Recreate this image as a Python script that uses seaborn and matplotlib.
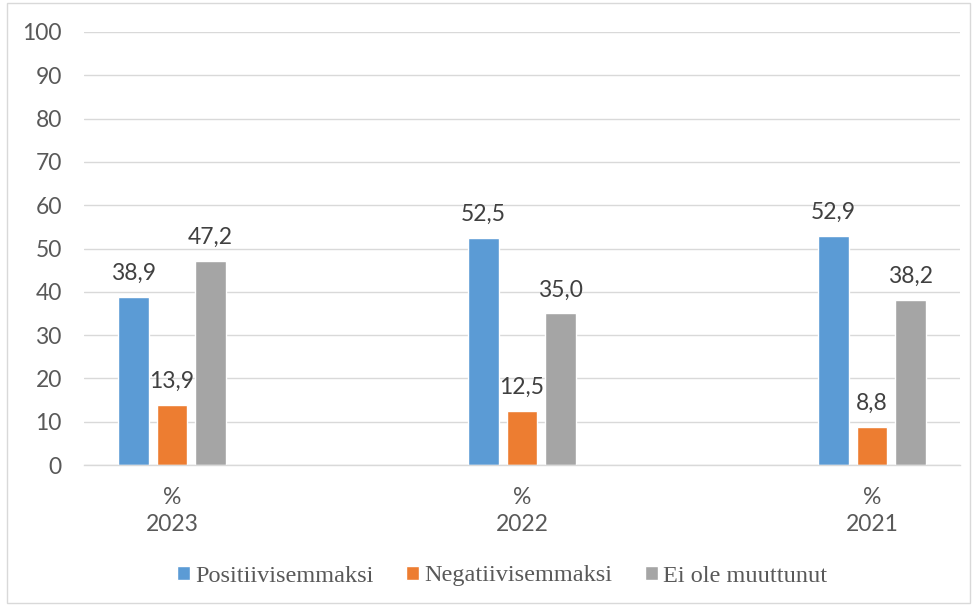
import matplotlib
matplotlib.use("Agg")
import matplotlib.pyplot as plt
from matplotlib.patches import Rectangle
import seaborn as sns
import pandas as pd

# Survey results by year
years = ["%\n2023", "%\n2022", "%\n2021"]
series = ["Positiivisemmaksi", "Negatiivisemmaksi", "Ei ole muuttunut"]
positive = [38.9, 52.5, 52.9]
negative = [13.9, 12.5, 8.8]
unchanged = [47.2, 35.0, 38.2]
y_ticks = [0, 10, 20, 30, 40, 50, 60, 70, 80, 90, 100]

colors = ["#5b9bd5", "#ed7d31", "#a5a5a5"]

df = pd.DataFrame({
    "year": years * 3,
    "series": [series[0]] * 3 + [series[1]] * 3 + [series[2]] * 3,
    "value": positive + negative + unchanged,
})

sns.set_theme(style="white")
plt.rcParams["font.family"] = ["Lato", "DejaVu Sans"]

W, H = 975, 608
fig = plt.figure(figsize=(W / 100, H / 100), dpi=100)
ax = fig.add_axes([84 / W, 1 - 465 / H, (960 - 84) / W, (465 - 32) / H])

sns.barplot(data=df, x="year", y="value", hue="series", order=years,
            hue_order=series, palette=colors, width=0.33, gap=0.2,
            saturation=1, ax=ax, legend=True)

ax.set_xlim(-0.2514, 2.2514)
ax.set_ylim(0, 100)
ax.set_yticks(y_ticks)
ax.yaxis.grid(True, color="#d9d9d9", linewidth=1.0)
ax.set_axisbelow(True)
for side in ["left", "right", "top"]:
    ax.spines[side].set_visible(False)
ax.spines["bottom"].set_color("#d9d9d9")
ax.spines["bottom"].set_linewidth(1.0)
ax.tick_params(axis="both", length=0, labelsize=16.5, colors="#595959")
ax.tick_params(axis="y", pad=16)
ax.tick_params(axis="x", pad=16)
for lbl in ax.get_xticklabels():
    lbl.set_linespacing(1.35)
ax.set_xlabel("")
ax.set_ylabel("")

# value labels above each bar
for container in ax.containers:
    labels = [f"{b.get_height():.1f}".replace(".", ",") for b in container]
    for b, t in zip(container, labels):
        ax.annotate(t, (b.get_x() + b.get_width() / 2, b.get_height()),
                    xytext=(0, 12), textcoords="offset points",
                    ha="center", va="baseline", fontsize=16.5, color="#404040")

handles, lbls = ax.get_legend_handles_labels()
ax.get_legend().remove()
fig.legend(handles, lbls, loc="center", bbox_to_anchor=((488 + 14) / W, 1 - 576 / H),
           ncol=3, frameon=False, handlelength=0.55, handleheight=0.55,
           handletextpad=0.2, columnspacing=1.35,
           prop={"family": "Liberation Serif", "size": 17.5},
           labelcolor="#595959")

# outer chart border
fig.patches.append(Rectangle((7 / W, 1 - 603 / H), (970 - 7) / W, (603 - 3) / H,
                             transform=fig.transFigure, fill=False,
                             edgecolor="#d9d9d9", linewidth=1.0))

fig.savefig("out.png", dpi=100)
